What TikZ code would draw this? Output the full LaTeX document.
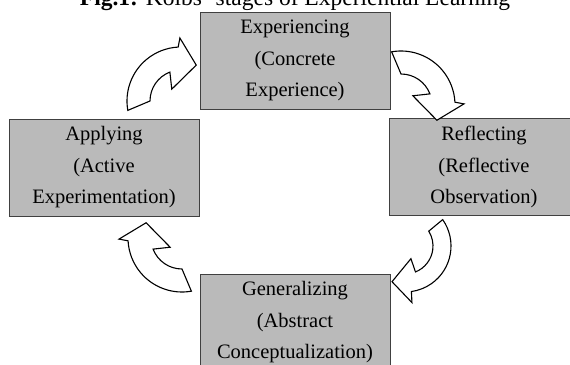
\documentclass[tikz,border=0pt]{standalone}
\usepackage{fontspec}
\setmainfont{Liberation Serif}

\tikzset{
  stage/.style={draw=black!75, line width=0.8pt, fill=black!27, minimum width=190pt, minimum height=97pt,
    inner sep=0pt, align=center, font=\fontsize{20.5}{31.5}\selectfont,
    execute at begin node={\rule{0pt}{24pt}}},
  turn/.style={draw=black, fill=white, line width=1.1pt, line join=miter}
}

\begin{document}
\begin{tikzpicture}[x=1pt,y=1pt]
\useasboundingbox (0,0) rectangle (570,364);

\path (295,358) node[anchor=base, font=\fontsize{23.5}{28}\selectfont] (title) {\textbf{Fig.1:} Kolbs' stages of Experiential Learning};

\path (295,303.5) node[stage] (exp) {Experiencing\\(Concrete\\Experience)};
\path (484,197) node[stage] (refl) {Reflecting\\(Reflective\\Observation)};
\path (295,41.5) node[stage] (gen) {Generalizing\\(Abstract\\Conceptualization)};
\path (104,196.5) node[stage] (app) {Applying\\(Active\\Experimentation)};

\draw[turn, shift={(181,263)}]
  (190:54pt) arc[start angle=190, end angle=93, radius=54pt] -- (91:63pt) -- (67:39pt) --
  (128:15pt) -- (111:31pt) arc[start angle=111, end angle=180, radius=31pt] -- cycle;
\draw[turn, shift={(401,259)}, rotate=-90]
  (190:54pt) arc[start angle=190, end angle=93, radius=54pt] -- (91:63pt) -- (67:39pt) --
  (128:15pt) -- (111:31pt) arc[start angle=111, end angle=180, radius=31pt] -- cycle;
\draw[turn, shift={(405,118)}, rotate=180]
  (215:46pt) arc[start angle=215, end angle=98, radius=46pt] -- (97:57pt) -- (70:38pt) --
  (115:14pt) -- (112:28pt) arc[start angle=112, end angle=212, radius=28pt] -- cycle;
\draw[turn, shift={(182,126)}, rotate=90]
  (190:54pt) arc[start angle=190, end angle=93, radius=54pt] -- (91:63pt) -- (67:39pt) --
  (128:15pt) -- (111:31pt) arc[start angle=111, end angle=180, radius=31pt] -- cycle;
\end{tikzpicture}
\end{document}
